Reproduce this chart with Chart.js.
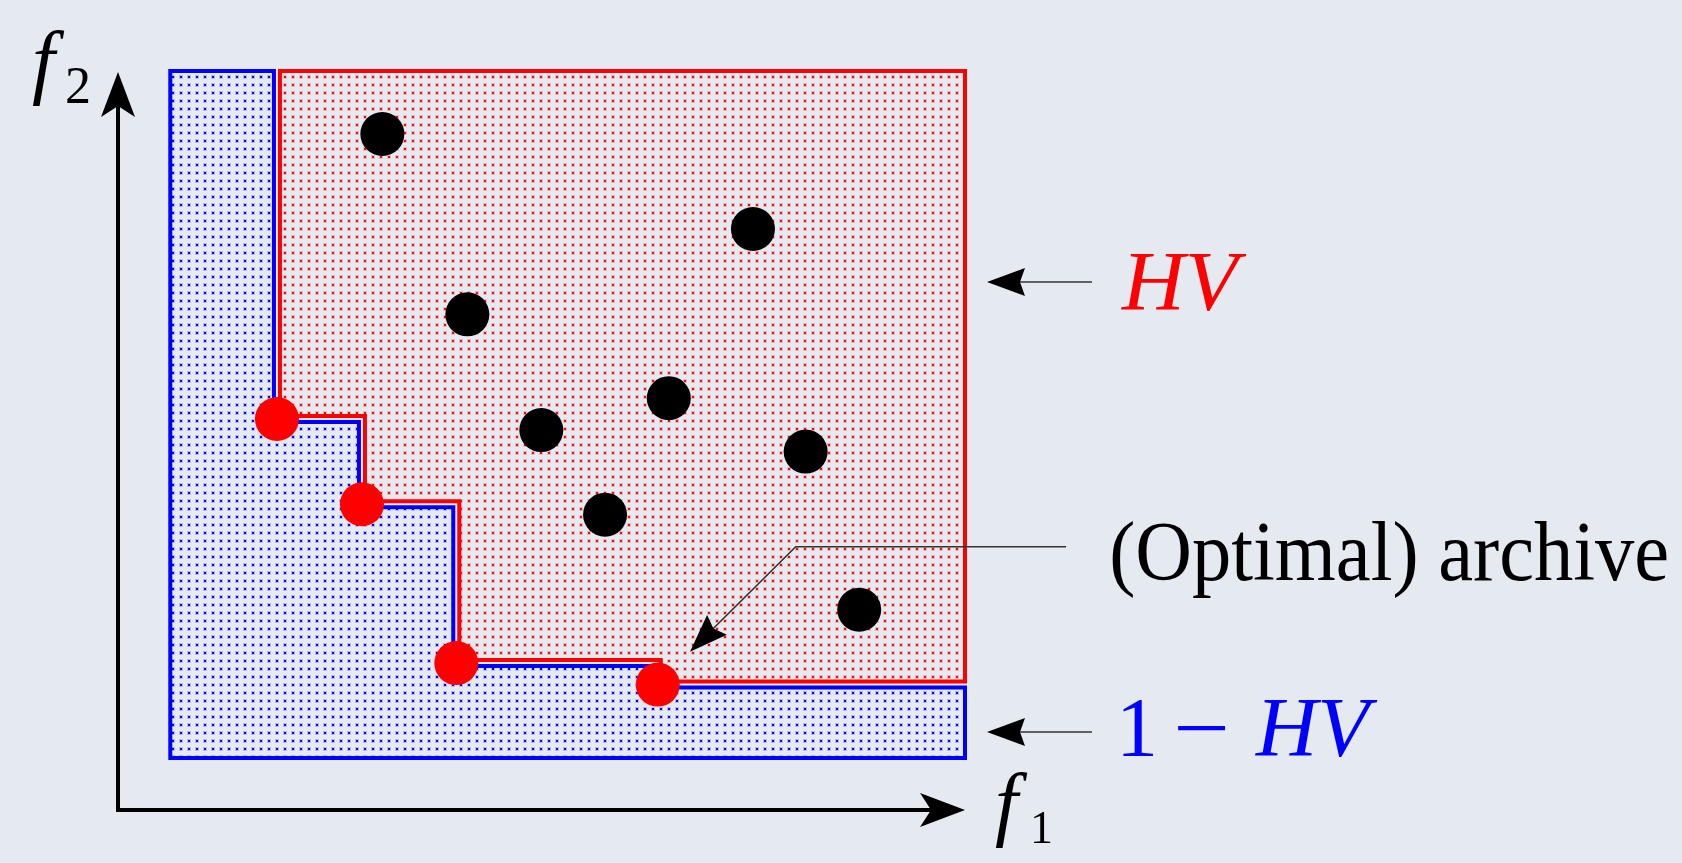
<!DOCTYPE html>
<html>
<head>
<meta charset="utf-8">
<title>Hypervolume</title>
<script src="https://cdn.jsdelivr.net/npm/chart.js@4.4.1/dist/chart.umd.min.js"></script>
<style>
  html, body { margin: 0; padding: 0; background: #e5eaf1; }
  canvas { display: block; }
</style>
</head>
<body>
<canvas id="hv-chart" width="1682" height="863"></canvas>
<script>
// archive (non-dominated) points, normalised objectives
const archiveF1 = [0.187, 0.287, 0.398, 0.635];
const archiveF2 = [0.527, 0.412, 0.198, 0.169];

// other (dominated) solutions
const otherF1 = [0.311, 0.747, 0.411, 0.648, 0.498, 0.809, 0.573, 0.872];
const otherF2 = [0.911, 0.783, 0.668, 0.555, 0.512, 0.483, 0.398, 0.270];

// ideal and reference corners of the objective box
const idealPoint = [0.058, 0.066];
const refPoint = [1, 1];

// axis extent (arrow tips)
const axisEnd = [0.9965, 0.9946];

const labelHV = 'HV';
const labelOneMinus = ['1', '\u2212', 'HV'];
const labelArchive = '(Optimal) archive';
const axisNames = ['f', 'f'];
const axisSubs = ['1', '2'];

const BG = '#e5eaf1';
const RED = '#ff0000';
const BLUE = '#0000ff';
const SERIF = '"Liberation Serif", "DejaVu Serif", serif';

function toPoints(xs, ys) {
  return xs.map((v, i) => ({ x: v, y: ys[i] }));
}

// dotted fill, 8px grid
function dotPattern(ctx, color) {
  const c = document.createElement('canvas');
  c.width = 8; c.height = 8;
  const g = c.getContext('2d');
  g.fillStyle = color;
  g.globalAlpha = 0.2;
  g.fillRect(3, 3, 4, 4);
  g.globalAlpha = 1;
  g.fillRect(4, 4, 2, 2);
  return ctx.createPattern(c, 'repeat');
}

// shrink a rectilinear polygon by d pixels
function insetPolygon(pts, d) {
  let area = 0;
  for (let i = 0; i < pts.length; i++) {
    const a = pts[i], b = pts[(i + 1) % pts.length];
    area += a[0] * b[1] - b[0] * a[1];
  }
  const s = area > 0 ? 1 : -1;
  const normals = pts.map((a, i) => {
    const b = pts[(i + 1) % pts.length];
    const dx = b[0] - a[0], dy = b[1] - a[1];
    const len = Math.hypot(dx, dy) || 1;
    return [s * -dy / len, s * dx / len];
  });
  return pts.map((p, i) => {
    const nPrev = normals[(i - 1 + pts.length) % pts.length];
    const nNext = normals[i];
    return [p[0] + d * (nPrev[0] + nNext[0]), p[1] + d * (nPrev[1] + nNext[1])];
  });
}

function drawPoly(ctx, pts, fill, stroke) {
  ctx.beginPath();
  pts.forEach((p, i) => i ? ctx.lineTo(p[0], p[1]) : ctx.moveTo(p[0], p[1]));
  ctx.closePath();
  ctx.fillStyle = fill;
  ctx.fill();
  ctx.lineWidth = 4;
  ctx.lineJoin = 'miter';
  ctx.strokeStyle = stroke;
  ctx.stroke();
}

function arrowHead(ctx, tx, ty, angle, len, halfW, notch) {
  const ux = Math.cos(angle), uy = Math.sin(angle);
  const nx = -uy, ny = ux;
  const bx = tx - ux * len, by = ty - uy * len;
  const mx = tx - ux * (len - notch), my = ty - uy * (len - notch);
  ctx.beginPath();
  ctx.moveTo(tx, ty);
  ctx.lineTo(bx + nx * halfW, by + ny * halfW);
  ctx.lineTo(mx, my);
  ctx.lineTo(bx - nx * halfW, by - ny * halfW);
  ctx.closePath();
  ctx.fillStyle = '#000';
  ctx.fill();
}

// text placed by its ink box, optionally stretched to a given ink width
function inkText(ctx, str, left, baseline, font, color, inkWidth) {
  ctx.font = font;
  const m = ctx.measureText(str);
  const w = m.actualBoundingBoxLeft + m.actualBoundingBoxRight;
  const sx = inkWidth ? inkWidth / w : 1;
  ctx.save();
  ctx.translate(left, baseline);
  ctx.scale(sx, 1);
  ctx.fillStyle = color;
  ctx.textAlign = 'left';
  ctx.textBaseline = 'alphabetic';
  ctx.fillText(str, m.actualBoundingBoxLeft, 0);
  ctx.restore();
}

const regionsPlugin = {
  id: 'hvRegions',
  beforeDraw(chart) {
    const ctx = chart.ctx;
    ctx.save();
    ctx.fillStyle = BG;
    ctx.fillRect(0, 0, chart.width, chart.height);
    ctx.restore();
  },
  beforeDatasetsDraw(chart) {
    const ctx = chart.ctx;
    const xs = chart.scales.x, ys = chart.scales.y;
    const px = v => xs.getPixelForValue(v);
    const py = v => ys.getPixelForValue(v);

    // staircase of the archive
    const stairs = [];
    archiveF1.forEach((f1, i) => {
      const prevY = i === 0 ? refPoint[1] : archiveF2[i - 1];
      stairs.push([px(f1), py(prevY)]);
      stairs.push([px(f1), py(archiveF2[i])]);
    });
    const last = archiveF2[archiveF2.length - 1];

    const redPoly = stairs.concat([[px(refPoint[0]), py(last)], [px(refPoint[0]), py(refPoint[1])]]);
    const bluePoly = [[px(idealPoint[0]), py(idealPoint[1])], [px(refPoint[0]), py(idealPoint[1])],
      [px(refPoint[0]), py(last)]].concat(stairs.slice().reverse(), [[px(idealPoint[0]), py(refPoint[1])]]);

    ctx.save();
    drawPoly(ctx, insetPolygon(bluePoly, 3), dotPattern(ctx, BLUE), BLUE);
    drawPoly(ctx, insetPolygon(redPoly, 3), dotPattern(ctx, RED), RED);
    ctx.restore();
  },
  afterDatasetsDraw(chart) {
    const ctx = chart.ctx;
    const xs = chart.scales.x, ys = chart.scales.y;
    const ox = xs.getPixelForValue(0), oy = ys.getPixelForValue(0);
    const tipX = xs.getPixelForValue(axisEnd[0]);
    const tipY = ys.getPixelForValue(axisEnd[1]);
    const boxR = xs.getPixelForValue(refPoint[0]);

    ctx.save();
    // axes
    ctx.strokeStyle = '#000';
    ctx.lineWidth = 4;
    ctx.lineJoin = 'miter';
    ctx.beginPath();
    ctx.moveTo(ox, tipY + 30);
    ctx.lineTo(ox, oy);
    ctx.lineTo(tipX - 30, oy);
    ctx.stroke();
    arrowHead(ctx, ox, tipY, -Math.PI / 2, 45, 17, 11);
    arrowHead(ctx, tipX, oy, 0, 45, 17, 11);

    // pointer arrows
    ctx.strokeStyle = '#333';
    ctx.lineWidth = 1.6;
    const sideArrows = [282, 732];
    sideArrows.forEach(y => {
      ctx.beginPath();
      ctx.moveTo(boxR + 124, y);
      ctx.lineTo(boxR + 50, y);
      ctx.stroke();
      arrowHead(ctx, boxR + 19, y, Math.PI, 38, 14, 5);
    });

    // archive leader
    const tip = [690, 651.7];
    const corner = [795.7, 546.7];
    ctx.beginPath();
    ctx.moveTo(1066, corner[1]);
    ctx.lineTo(corner[0], corner[1]);
    const ang = Math.atan2(tip[1] - corner[1], tip[0] - corner[0]);
    ctx.lineTo(tip[0] - Math.cos(ang) * 30, tip[1] - Math.sin(ang) * 30);
    ctx.stroke();
    arrowHead(ctx, tip[0], tip[1], ang, 38, 14, 5);

    // labels
    inkText(ctx, labelHV, 1121, 310, 'italic 84px ' + SERIF, RED, 126);
    inkText(ctx, labelOneMinus[0], 1123, 756, '84px ' + SERIF, BLUE);
    inkText(ctx, labelOneMinus[1], 1178, 756, '84px ' + SERIF, BLUE, 48);
    inkText(ctx, labelOneMinus[2], 1255, 756, 'italic 84px ' + SERIF, BLUE, 123);
    inkText(ctx, labelArchive, 1112, 580, '84px ' + SERIF, '#000', 555);

    inkText(ctx, axisNames[0], 995, 830, 'italic 82px ' + SERIF, '#000');
    inkText(ctx, axisSubs[0], 1034, 843, '46px ' + SERIF, '#000');
    inkText(ctx, axisNames[1], 32, 88, 'italic 82px ' + SERIF, '#000');
    inkText(ctx, axisSubs[1], 67, 103, '52px ' + SERIF, '#000');
    ctx.restore();
  }
};

const chart = new Chart(document.getElementById('hv-chart'), {
  type: 'scatter',
  data: {
    datasets: [
      {
        label: 'Archive',
        data: toPoints(archiveF1, archiveF2),
        pointRadius: 22,
        pointHoverRadius: 22,
        pointBackgroundColor: RED,
        pointBorderWidth: 0,
        clip: false
      },
      {
        label: 'Solutions',
        data: toPoints(otherF1, otherF2),
        pointRadius: 22,
        pointHoverRadius: 22,
        pointBackgroundColor: '#000',
        pointBorderWidth: 0,
        clip: false
      }
    ]
  },
  options: {
    responsive: false,
    animation: false,
    events: [],
    layout: {
      autoPadding: false,
      padding: { left: 118, right: 714, top: 68, bottom: 53 }
    },
    scales: {
      x: { type: 'linear', min: 0, max: 1, display: false },
      y: { type: 'linear', min: 0, max: 1, display: false }
    },
    plugins: {
      legend: { display: false },
      tooltip: { enabled: false }
    }
  },
  plugins: [regionsPlugin]
});
</script>
</body>
</html>
